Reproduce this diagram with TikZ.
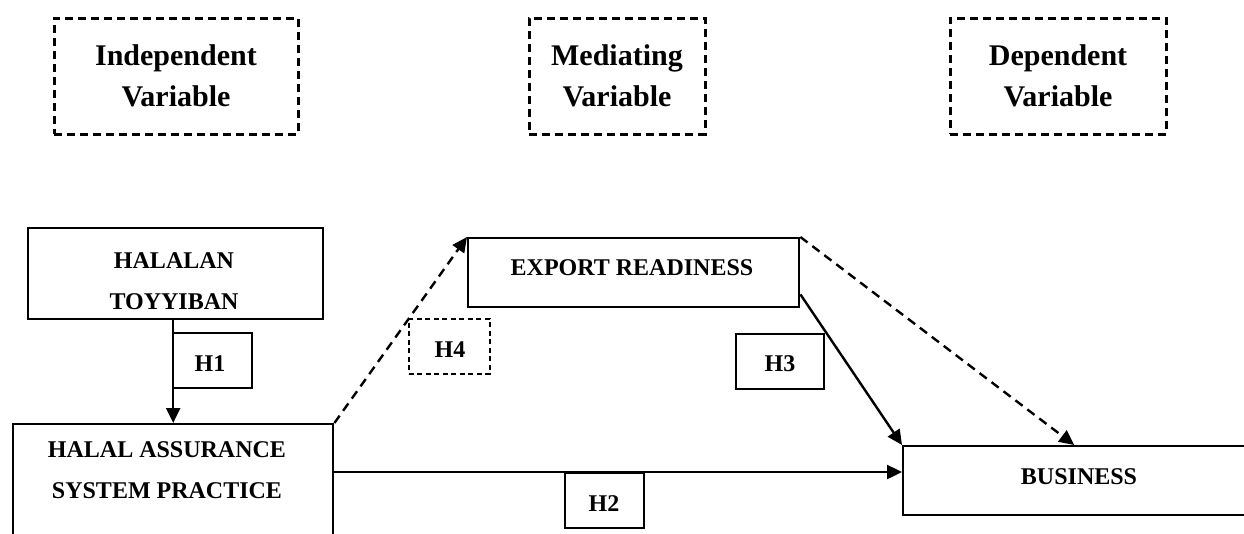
\documentclass[tikz,border=0pt]{standalone}
\usepackage{fontspec}
\setmainfont{Liberation Serif}
\usetikzlibrary{arrows.meta}
\begin{document}
\begin{tikzpicture}[x=1pt,y=-1pt,
  varbox/.style={draw, line width=3pt, dash pattern=on 8pt off 5pt,
    inner sep=0pt, align=center, font=\fontsize{30}{41}\selectfont\bfseries},
  solidbox/.style={draw, line width=2.4pt, inner sep=0pt, anchor=north west},
  hypbox/.style={draw, line width=2.4pt, inner sep=0pt, anchor=north west,
    minimum width=79pt, minimum height=55pt},
  dashhyp/.style={hypbox, line width=1.8pt, dash pattern=on 5pt off 3.5pt},
  txt/.style={inner sep=0pt, align=center, font=\fontsize{24}{41}\selectfont\bfseries},
  link/.style={line width=2.4pt, -{Triangle[length=15pt,width=14pt]}},
  dlink/.style={link, dash pattern=on 9pt off 6pt}
]
\useasboundingbox (0,0) rectangle (1244,533);
\clip (0,0) rectangle (1244,533);

% variable headings
\node[varbox, minimum width=244pt, minimum height=116pt] (indep) at (176,76) {Independent\\Variable};
\node[varbox, minimum width=176pt, minimum height=116pt] (medi) at (617,76) {Mediating\\Variable};
\node[varbox, minimum width=216pt, minimum height=116pt] (depe) at (1058,76) {Dependent\\Variable};

% constructs
\node[solidbox, minimum width=295pt, minimum height=91pt] (halalan) at (27,227) {};
\node[txt] (halalan-t) at (174,281) {HALALAN\\TOYYIBAN};

\node[solidbox, minimum width=320pt, minimum height=140pt] (has) at (12,423) {};
\node[txt] (has-t) at (167,470) {HALAL ASSURANCE\\SYSTEM PRACTICE};

\node[solidbox, minimum width=331pt, minimum height=69pt] (er) at (467,237) {};
\node[txt] (er-t) at (632,268) {EXPORT READINESS};

\node[solidbox, minimum width=354pt, minimum height=69pt] (bus) at (902,445) {};
\node[txt] (bus-t) at (1079,477) {BUSINESS};

% hypothesis labels
\node[hypbox] (h1) at (172,332) {};
\node[txt] (h1-t) at (210,364) {H1};
\node[dashhyp, minimum width=81pt] (h4) at (408,318) {};
\node[txt] (h4-t) at (450,350) {H4};
\node[hypbox, minimum width=88pt] (h3) at (735,333) {};
\node[txt] (h3-t) at (780,364) {H3};
\node[hypbox] (h2) at (564,472) {};
\node[txt] (h2-t) at (604,504) {H2};

% paths
\draw[link] (halalan.south -| has.north) -- (has.north);
\draw[link] (has.east |- h2.north) -- (bus.west |- h2.north);
\draw[link] ([yshift=14pt]er.south east) -- (bus.north west);
\draw[dlink] (has.north east) -- (er.north west);
\draw[dlink] (er.north east) -- ([xshift=-6pt]bus.north);
\end{tikzpicture}
\end{document}
